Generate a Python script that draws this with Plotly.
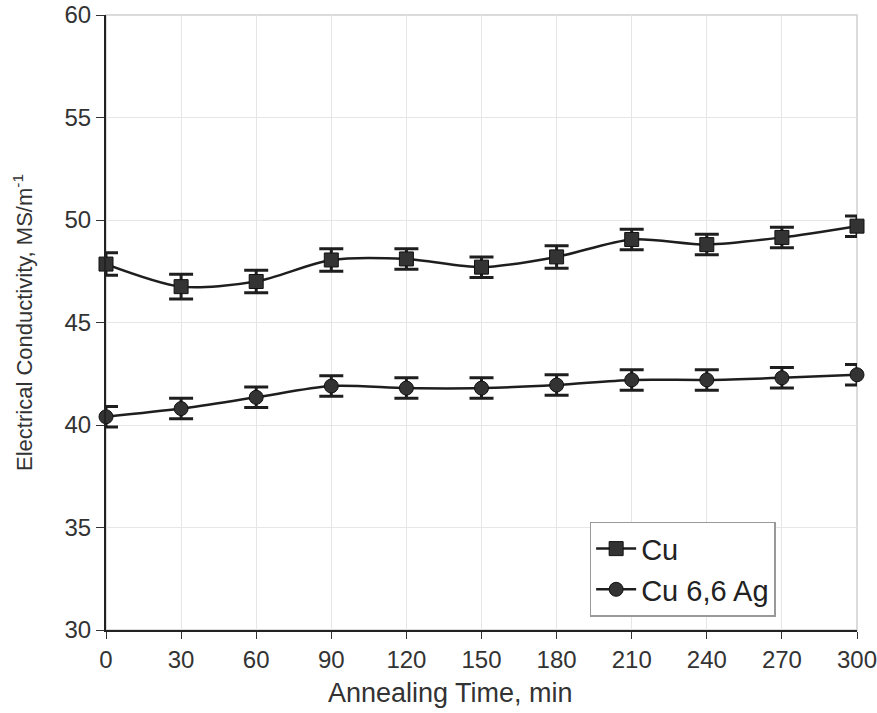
import plotly.graph_objects as go

time_min = [0, 30, 60, 90, 120, 150, 180, 210, 240, 270, 300]
cu = [47.85, 46.75, 47.0, 48.05, 48.1, 47.7, 48.2, 49.05, 48.8, 49.15, 49.7]
cu_err = [0.55, 0.6, 0.55, 0.55, 0.5, 0.5, 0.55, 0.5, 0.5, 0.5, 0.5]
cuag = [40.4, 40.8, 41.35, 41.9, 41.8, 41.8, 41.95, 42.2, 42.2, 42.3, 42.45]
cuag_err = [0.5, 0.5, 0.5, 0.5, 0.5, 0.5, 0.5, 0.5, 0.5, 0.5, 0.5]
x_ticks = [0, 30, 60, 90, 120, 150, 180, 210, 240, 270, 300]
y_ticks = [30, 35, 40, 45, 50, 55, 60]

FONT = "Liberation Sans, Arial, sans-serif"
fig = go.Figure()
for name, vals, err, sym, sz in [("Cu", cu, cu_err, "square", 14),
                                 ("Cu 6,6 Ag", cuag, cuag_err, "circle", 14)]:
    fig.add_trace(go.Scatter(
        x=time_min, y=vals, name=name, mode="lines+markers", cliponaxis=False,
        line=dict(color="#1e1e1e", width=2.5, shape="spline", smoothing=0.8),
        marker=dict(symbol=sym, size=sz, color="#333333",
                    line=dict(color="#111111", width=1)),
        error_y=dict(type="data", array=err, visible=True,
                     color="#1e1e1e", thickness=3, width=12),
    ))

fig.add_shape(type="rect", xref="paper", yref="paper", x0=0, y0=0, x1=1, y1=1,
              line=dict(color="#cfcfcf", width=1.5), layer="below")

fig.add_annotation(text="Annealing Time, min", xref="paper", yref="paper",
                   x=0.459, y=0, yshift=-63, xanchor="center", yanchor="middle",
                   showarrow=False, font=dict(size=27, color="#333333"))

fig.update_layout(
    width=877, height=713,
    margin=dict(l=106, r=20, t=15, b=83),
    paper_bgcolor="white", plot_bgcolor="white",
    font=dict(family=FONT, color="#333333", size=24),
    showlegend=True,
    legend=dict(x=0.644, y=0.176, xanchor="left", yanchor="top",
                bordercolor="#999999", borderwidth=1.5, bgcolor="white",
                font=dict(size=29, color="#222222"), itemwidth=40),
    xaxis=dict(range=[0, 300], tickvals=x_ticks, ticks="outside", ticklen=7,
               tickcolor="#333", showline=True, linecolor="#222", linewidth=2,
               showgrid=True, gridcolor="#e6e6e6", gridwidth=1, zeroline=False,
               tickfont=dict(size=24), automargin=False, ticklabeloverflow="allow"),
    yaxis=dict(range=[30, 60], tickvals=y_ticks, ticks="outside", ticklen=8,
               tickcolor="#333", showline=True, linecolor="#222", linewidth=2,
               showgrid=True, gridcolor="#e6e6e6", gridwidth=1, zeroline=False,
               tickfont=dict(size=24), automargin=False, ticklabeloverflow="allow",
               title=dict(text="Electrical Conductivity, MS/m<sup>-1</sup>",
                          font=dict(size=22), standoff=26)),
)

fig.write_html("out.html")
